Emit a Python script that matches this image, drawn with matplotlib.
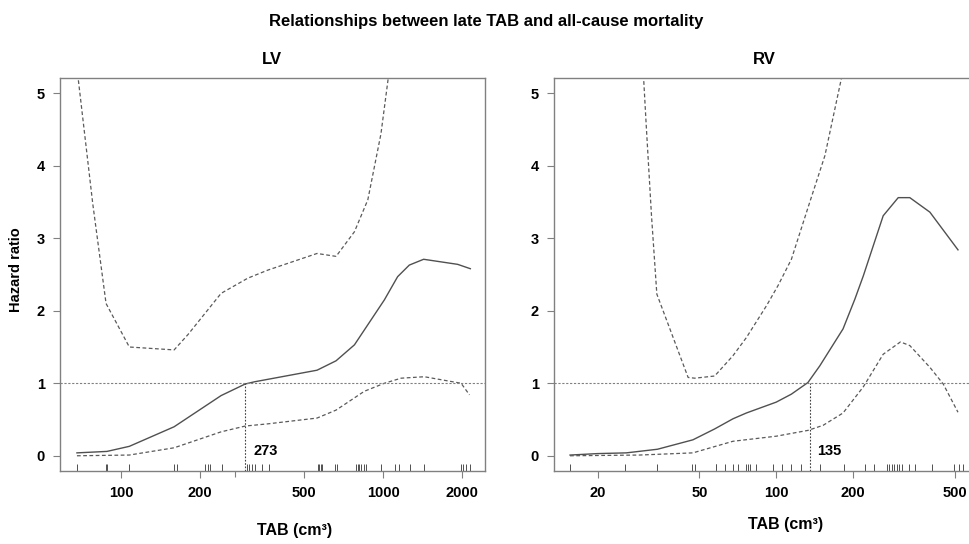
import matplotlib
matplotlib.use("Agg")
import matplotlib.pyplot as plt

plt.rcParams['font.family'] = ['Liberation Sans', 'DejaVu Sans']
plt.rcParams['font.weight'] = 'bold'

# ---- LV panel ----
lv_x = [67.9, 88.4, 107.6, 159.5, 241, 298, 323, 560, 662, 778, 1012, 1137, 1260, 1429, 1927, 2154]
lv_hr = [0.04, 0.06, 0.13, 0.40, 0.83, 0.99, 1.02, 1.18, 1.31, 1.53, 2.15, 2.47, 2.63, 2.71, 2.64, 2.58]

lv_lo_x = [67.9, 107.6, 159.5, 241, 298, 363, 560, 662, 849, 1012, 1172, 1438, 1986, 2138]
lv_lo = [0.0, 0.01, 0.11, 0.33, 0.41, 0.44, 0.52, 0.63, 0.89, 1.00, 1.07, 1.09, 1.00, 0.84]

lv_hi_x = [67.9, 78, 87.7, 107.6, 159.5, 180, 241, 305, 363, 560, 662, 778, 875, 982, 1100]
lv_hi = [5.35, 3.48, 2.10, 1.50, 1.46, 1.67, 2.24, 2.45, 2.56, 2.79, 2.75, 3.09, 3.53, 4.44, 5.8]

lv_rug = [67.7, 87.6, 88.4, 107.0, 159.7, 163.2, 209.2, 214.2, 218.6, 242.3, 301.8, 308.7,
          316.2, 324.7, 344.4, 368.1, 563.3, 571.3, 580, 585, 657.7, 667.5, 788.6, 800.5,
          811.9, 824.1, 843.8, 861, 982.6, 1114, 1148, 1271, 1438, 1985, 2025, 2074, 2148]
lv_cut_x = 297
lv_cut_label = "273"

# ---- RV panel ----
rv_x = [15.6, 20.0, 25.9, 34.3, 47.2, 57.4, 67.7, 76.4, 100, 114.6, 133, 148, 182.5, 203,
        219, 262, 300, 333, 399, 514]
rv_hr = [0.01, 0.03, 0.04, 0.09, 0.22, 0.37, 0.51, 0.59, 0.74, 0.85, 1.01, 1.24, 1.75, 2.16,
         2.48, 3.31, 3.56, 3.56, 3.36, 2.84]

rv_lo_x = [15.6, 29.2, 47.2, 67.7, 100, 133, 152.5, 182.5, 219, 262, 306, 333, 399, 450, 514]
rv_lo = [0.0, 0.01, 0.04, 0.20, 0.27, 0.35, 0.42, 0.59, 0.95, 1.40, 1.57, 1.52, 1.22, 0.99, 0.60]

rv_hi_x = [29.2, 31, 32.5, 34.1, 45.2, 48, 57.4, 67.7, 76.4, 91.6, 101.7, 114.6, 135, 155, 190]
rv_hi = [6.2, 4.55, 3.31, 2.23, 1.08, 1.07, 1.10, 1.38, 1.63, 2.07, 2.35, 2.71, 3.49, 4.14, 5.6]

rv_rug = [15.6, 25.7, 34.2, 46.6, 48.3, 57.9, 58.3, 62.8, 67.9, 70.9, 75.8, 77.5, 78.9, 83.6,
          96.7, 105.1, 114.7, 124.4, 148.9, 183.8, 222.0, 240.9, 270.1, 275.7, 283.2, 289.7,
          296.3, 303.0, 309.1, 330.2, 348.5, 405.2, 494.0, 520.5, 539.6]
rv_cut_x = 135
rv_cut_label = "135"

lv_ticks = [100, 200, 500, 1000, 2000]
rv_ticks = [20, 50, 100, 200, 500]

line_col = '#505050'
frame_col = '#808080'

fig = plt.figure(figsize=(9.69, 5.44), dpi=100)
ax1 = fig.add_axes([0.0619, 0.1342, 0.4386, 0.7224])
ax2 = fig.add_axes([0.5717, 0.1342, 0.4386, 0.7224])


def panel(ax, x, hr, lox, lo, hix, hi, rug, cut, cut_lab, xlim, ticks, extra_ticks):
    ax.set_xscale('log')
    ax.plot(x, hr, color=line_col, lw=1.0)
    ax.plot(lox, lo, color='#5a5a5a', lw=0.9, ls=(0, (3, 2)))
    ax.plot(hix, hi, color='#5a5a5a', lw=0.9, ls=(0, (3, 2)))
    ax.axhline(1, color='#808080', lw=0.8, ls=(0, (2, 1.5)))
    ax.vlines(cut, -0.21, 1, color='#404040', lw=0.8, ls=(0, (1.5, 1.5)))
    ax.vlines(rug, 0, 0.018, transform=ax.get_xaxis_transform(), color='#505050', lw=0.7)
    ax.text(cut * 1.075, 0.07, cut_lab, fontsize=10.5, fontweight='bold', va='center', ha='left')
    ax.set_xlim(*xlim)
    ax.set_ylim(-0.21, 5.21)
    ax.set_xticks(ticks)
    ax.set_xticklabels([str(t) for t in ticks])
    ax.xaxis.set_minor_locator(matplotlib.ticker.FixedLocator(extra_ticks))
    ax.xaxis.set_minor_formatter(matplotlib.ticker.NullFormatter())
    ax.set_yticks(range(6))
    ax.tick_params(axis='both', which='major', labelsize=10.5, length=5, width=0.8,
                   color=frame_col, pad=6)
    ax.tick_params(axis='x', which='minor', length=4, width=0.8, color=frame_col)
    for s in ax.spines.values():
        s.set_color(frame_col)
        s.set_linewidth(1.0)
    for lab in ax.get_xticklabels() + ax.get_yticklabels():
        lab.set_fontweight('bold')


panel(ax1, lv_x, lv_hr, lv_lo_x, lv_lo, lv_hi_x, lv_hi, lv_rug, lv_cut_x, lv_cut_label,
      (58.5, 2450), lv_ticks, [273])
panel(ax2, rv_x, rv_hr, rv_lo_x, rv_lo, rv_hi_x, rv_hi, rv_rug, rv_cut_x, rv_cut_label,
      (13.5, 621), rv_ticks, [])

fig.text(0.502, 0.9596, "Relationships between late TAB and all-cause mortality",
         ha='center', va='center', fontsize=12, fontweight='bold')
fig.text(272 / 969, 1 - 60 / 544, "LV", ha='center', va='center', fontsize=12, fontweight='bold')
fig.text(764 / 969, 1 - 60 / 544, "RV", ha='center', va='center', fontsize=12, fontweight='bold')
fig.text(295 / 969, 1 - 530 / 544, "TAB (cm³)", ha='center', va='center', fontsize=11.5, fontweight='bold')
fig.text(786 / 969, 1 - 525 / 544, "TAB (cm³)", ha='center', va='center', fontsize=11.5, fontweight='bold')
fig.text(16 / 969, 1 - 270 / 544, "Hazard ratio", ha='center', va='center', rotation=90,
         fontsize=10.5, fontweight='bold')

fig.savefig("out.png", dpi=100)
